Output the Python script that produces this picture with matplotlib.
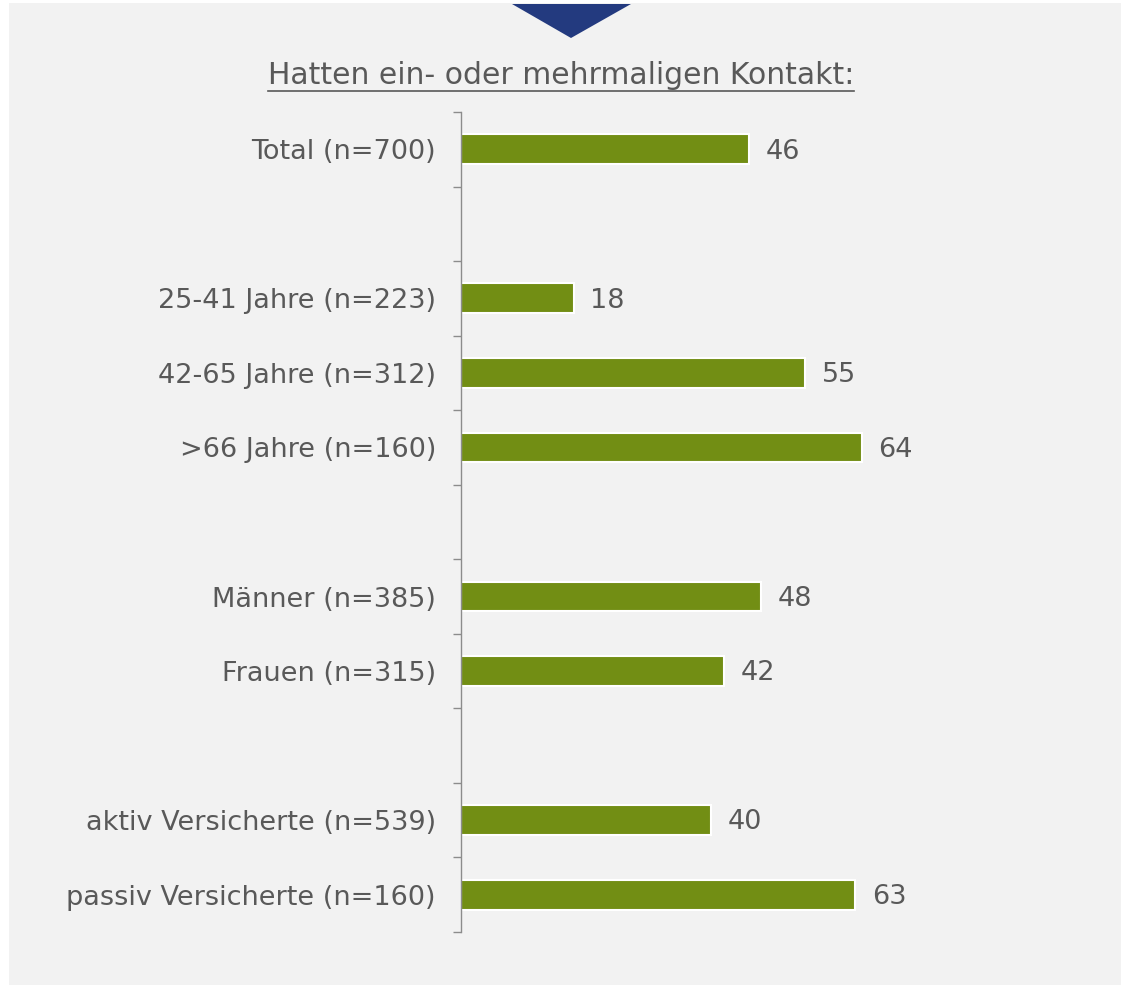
import matplotlib
matplotlib.use("Agg")
import matplotlib.pyplot as plt
from matplotlib.patches import Rectangle, Polygon
from matplotlib.lines import Line2D

plt.rcParams["font.family"] = ["DejaVu Sans"]

# Categories top to bottom, blank entries are gaps between groups
labels = ["Total (n=700)", "",
          "25-41 Jahre (n=223)", "42-65 Jahre (n=312)", ">66 Jahre (n=160)", "",
          "Männer (n=385)", "Frauen (n=315)", "",
          "aktiv Versicherte (n=539)", "passiv Versicherte (n=160)"]
values = [46, None, 18, 55, 64, None, 48, 42, None, 40, 63]
title = "Hatten ein- oder mehrmaligen Kontakt:"

W, H = 1128, 990
fig = plt.figure(figsize=(W / 100, H / 100), dpi=100)
fig.patch.set_facecolor("white")

# gray panel and the blue arrow on top
fig.patches.append(Rectangle((9 / W, 1 - 985 / H), (1121 - 9) / W, (985 - 3) / H,
                             transform=fig.transFigure, facecolor="#f2f2f2",
                             edgecolor="none", zorder=-2))
fig.patches.append(Polygon([(512 / W, 1 - 4 / H), (631 / W, 1 - 4 / H), (571 / W, 1 - 38 / H)],
                           closed=True, transform=fig.transFigure,
                           facecolor="#233a7f", edgecolor="none", zorder=-1))

gray = "#595959"
fs = 19.5

ax = fig.add_axes([461 / W, 1 - 932 / H, (1087 - 461) / W, (932 - 112) / H])
ax.set_facecolor("none")

ypos = list(range(len(labels)))
for y, v in zip(ypos, values):
    if v is None:
        continue
    ax.barh(y, v, height=0.4, color="#728e14", edgecolor="white", linewidth=1.5)
    ax.text(v + 2.6, y + 0.03, str(v), va="center", ha="left", fontsize=fs, color=gray)

ax.set_xlim(0, 100)
ax.set_ylim(len(labels) - 0.5, -0.5)
ax.set_yticks(ypos)
ax.set_yticklabels(labels, fontsize=fs, color=gray)
ax.tick_params(axis="y", which="major", length=0, pad=18)
ax.set_yticks([i - 0.5 for i in range(len(labels) + 1)], minor=True)
ax.tick_params(axis="y", which="minor", length=6, width=1, color="#8c8c8c")
ax.set_xticks([])
for s in ["top", "right", "bottom"]:
    ax.spines[s].set_visible(False)
ax.spines["left"].set_color("#8c8c8c")
ax.spines["left"].set_linewidth(1)

# underlined title
t = fig.text(561 / W, 1 - 75 / H, title, ha="center", va="center", fontsize=21.5, color=gray)
fig.canvas.draw()
bb = t.get_window_extent()
fig.lines.append(Line2D([bb.x0 / W, bb.x1 / W], [(bb.y0 - 1) / H, (bb.y0 - 1) / H],
                        transform=fig.transFigure, color=gray, linewidth=1.2))

fig.savefig("out.png", dpi=100, facecolor=fig.get_facecolor())
